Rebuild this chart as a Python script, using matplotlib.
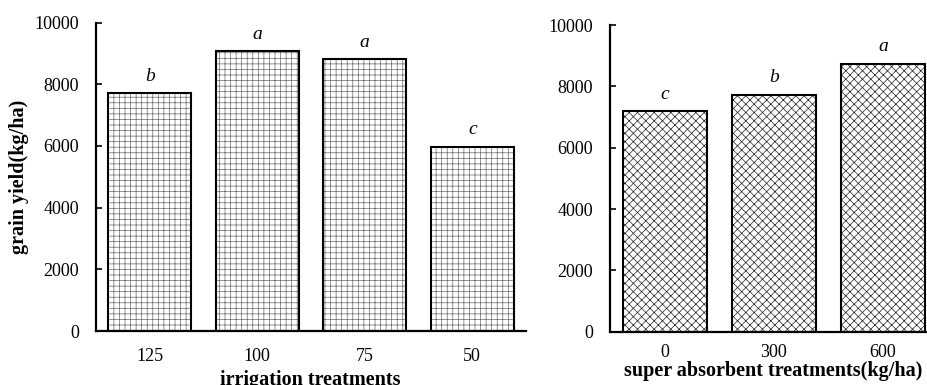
import matplotlib
matplotlib.use("Agg")
import matplotlib.pyplot as plt
import numpy as np

# data
irr_labels = ["125", "100", "75", "50"]
irr_values = [7700, 9060, 8820, 5980]
irr_letters = ["b", "a", "a", "c"]

sa_labels = ["0", "300", "600"]
sa_values = [7200, 7730, 8740]
sa_letters = ["c", "b", "a"]

plt.rcParams['font.family'] = ['Liberation Serif', 'DejaVu Serif']
plt.rcParams['hatch.linewidth'] = 0.5

fig = plt.figure(figsize=(9.27, 3.85), dpi=100)
ax1 = fig.add_axes([96/927, 1-331/385, (526-96)/927, (331-22.5)/385])
ax2 = fig.add_axes([610/927, 1-331.7/385, (927-610)/927, (331.7-25)/385])

def draw(ax, labels, values, letters, hatch, hcolor, xlim, xpad):
    x = np.arange(len(labels))
    ax.bar(x, values, width=0.77, color='white', edgecolor=hcolor, hatch=hatch, linewidth=0, zorder=2)
    ax.bar(x, values, width=0.77, fill=False, edgecolor='black', linewidth=1.5, zorder=3)
    for xi, v, l in zip(x, values, letters):
        ax.annotate(l, (xi, v), xytext=(0, 6), textcoords='offset points',
                    ha='center', va='bottom', fontsize=14, fontstyle='italic')
    ax.set_xlim(*xlim)
    ax.set_ylim(0, 10000)
    ax.set_yticks([0, 2000, 4000, 6000, 8000, 10000])
    ax.set_xticks(x)
    ax.set_xticklabels(labels, fontsize=13)
    ax.tick_params(axis='x', length=0, pad=xpad)
    ax.tick_params(axis='y', direction='in', length=4, width=1.2, labelsize=13, pad=12)
    for s in ['top', 'right']:
        ax.spines[s].set_visible(False)
    for s in ['left', 'bottom']:
        ax.spines[s].set_linewidth(1.6)

draw(ax1, irr_labels, irr_values, irr_letters, '+++', '#6a6a6a', (-0.5, 3.5), 12)
draw(ax2, sa_labels, sa_values, sa_letters, 'xxxx', '#222222', (-0.5, 2.405), 9)

ax1.set_ylabel("grain yield(kg/ha)", fontsize=14.5, fontweight='bold', labelpad=4)
fig.text(310/927, (385-385)/385, "irrigation treatments", ha='center', va='baseline',
         fontsize=14.5, fontweight='bold')
fig.text(773/927, (385-371)/385, "super absorbent treatments(kg/ha)", ha='center', va='center',
         fontsize=14.5, fontweight='bold')

fig.savefig("out.png", dpi=100)
